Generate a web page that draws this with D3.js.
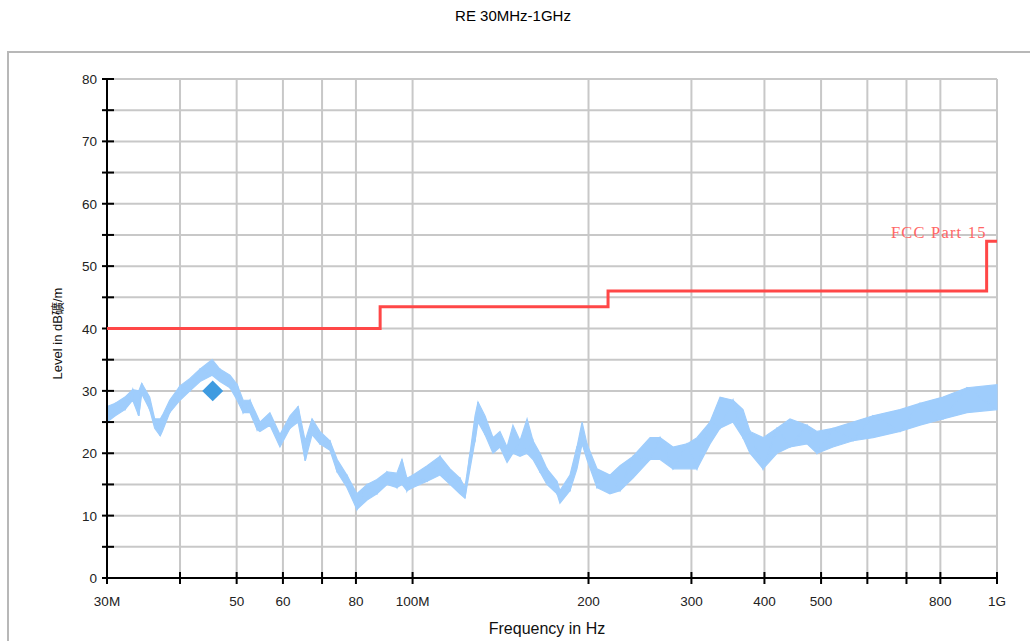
<!DOCTYPE html>
<html>
<head>
<meta charset="utf-8">
<script src="https://cdn.jsdelivr.net/npm/d3@7"></script>
<style>
  html, body { margin: 0; padding: 0; background: #fff; }
  svg { display: block; }
</style>
</head>
<body>
<script>
// ---------- DATA ----------
const chartTitle = "RE 30MHz-1GHz";
const xTitle = "Frequency in Hz";
const yTitle = "Level in dB礦/m";

// x tick values (MHz) and their labels ("" = unlabeled tick)
const xTickValues = [30, 40, 50, 60, 70, 80, 100, 200, 300, 400, 500, 600, 700, 800, 1000];
const xTickLabels = ["30M", "", "50", "60", "", "80", "100M", "200", "300", "400", "500", "", "", "800", "1G"];
const yMajorTicks = [0, 10, 20, 30, 40, 50, 60, 70, 80];
const yMinorTicks = [5, 15, 25, 35, 45, 55, 65, 75];

// measured trace (peak detector): frequency (MHz), lower and upper level of the noisy band (dBµV/m)
const traceFreq = [30, 31, 32.2, 33.2, 34.0, 34.4, 35.5, 36.2, 37.0, 37.3, 38.4, 40, 41.6, 43.3, 45.4, 46.8, 48.7, 50.1, 51.3, 52.7, 54.2, 54.8, 57, 59.3, 61.7, 63.7, 65.5, 67.3, 69.4, 72.2, 74.3, 77.2, 80.3, 83.6, 86.9, 90.4, 94, 95.9, 97.8, 100.2, 105.9, 111.4, 115.9, 120.5, 122.9, 125.4, 127.9, 129.4, 133, 137.3, 141.1, 145.1, 148.5, 152.7, 157, 160.7, 165.2, 169.8, 176.7, 178.7, 185.9, 191.1, 195, 198.8, 206.8, 217.6, 226.4, 238.3, 254.9, 265.1, 279, 294.8, 306.6, 322.8, 335.8, 353.4, 367.6, 377.9, 397.8, 420.3, 442.4, 473.1, 492.1, 524.1, 567.1, 613.6, 682.4, 738.3, 808.4, 888.5, 1000];
const traceLo = [25, 26, 27, 28.5, 26, 29.5, 27, 24, 22.8, 23.5, 26.5, 28.5, 30, 31.5, 32.5, 31.5, 30.5, 28.5, 26.5, 26.5, 23.8, 23.5, 24.5, 21, 24, 25, 18.8, 23, 21.5, 20.5, 17, 14.5, 11, 12.5, 13.5, 15, 14.5, 15, 14, 14.5, 15.5, 16.5, 15, 13.5, 12.8, 17.5, 22, 25, 23, 20, 21, 18.5, 20, 19.5, 20, 19, 17, 15, 13.5, 12, 14, 17.5, 21.5, 19, 14.5, 13.5, 14, 16, 19, 19, 17.5, 17.5, 17.5, 21.5, 24, 25, 22.5, 20, 17.5, 20, 21, 21.5, 20, 21, 22, 22.5, 23.5, 24.5, 25.5, 26.5, 27];
const traceHi = [27.5, 28, 29, 30.2, 30, 31.2, 29, 25.5, 25.5, 26, 28.5, 30.8, 32, 33.5, 35, 33.5, 32.5, 31, 28.5, 28.5, 26, 25, 26.5, 23, 26, 27.5, 22, 25.5, 23.5, 22, 19, 16.5, 13.5, 15, 15.8, 17, 16.8, 19, 16, 16.5, 18, 19.5, 17.5, 16, 14.5, 20, 26, 28.2, 26, 22.5, 23.5, 21, 24.5, 22, 25.5, 22, 20, 17.5, 15.5, 14, 16.5, 21, 25, 21.5, 17.5, 16.5, 18, 19.5, 22.5, 22.5, 21, 21.5, 22.5, 25, 29, 28.5, 27, 23.5, 22.5, 24, 25.5, 24.5, 23.5, 24, 25, 26, 27, 28, 29, 30.5, 31];

// final measurement marker (quasi-peak)
const markerFreq = [45.5];
const markerLevel = [30];

// FCC Part 15 limit line (step)
const limitFreq = [30, 88, 88, 216, 216, 960, 960, 1000];
const limitLevel = [40, 40, 43.5, 43.5, 46, 46, 54, 54];
const limitName = "FCC Part 15";

// ---------- DRAW ----------
const W = 1030, H = 641;
const m = { left: 107, right: 33, top: 79, bottom: 63 };

const svg = d3.select("body").append("svg").attr("width", W).attr("height", H);

// outer frame
svg.append("rect").attr("x", 8).attr("y", 52).attr("width", W + 20).attr("height", 640)
  .attr("fill", "#fff").attr("stroke", "#b8b8b8").attr("stroke-width", 2);

svg.append("text").attr("x", 513).attr("y", 21).attr("text-anchor", "middle")
  .attr("font-family", "Liberation Sans, Arial, sans-serif").attr("font-size", 15)
  .attr("fill", "#000").text(chartTitle);

const x = d3.scaleLog().domain([30, 1000]).range([m.left, W - m.right]);
const y = d3.scaleLinear().domain([0, 80]).range([H - m.bottom, m.top]);

const g = svg.append("g");

// grid
g.selectAll(".vg").data(xTickValues.slice(1)).join("line")
  .attr("x1", d => x(d)).attr("x2", d => x(d)).attr("y1", y(0)).attr("y2", y(80))
  .attr("stroke", "#c8c8c8").attr("stroke-width", 2);
g.selectAll(".hg").data(yMajorTicks.concat(yMinorTicks).filter(d => d > 0)).join("line")
  .attr("x1", x(30)).attr("x2", x(1000)).attr("y1", d => y(d)).attr("y2", d => y(d))
  .attr("stroke", "#c8c8c8").attr("stroke-width", 2);

// trace band
const pts = traceFreq.map((f, i) => ({ f, lo: traceLo[i], hi: traceHi[i] }));
g.append("path").datum(pts)
  .attr("d", d3.area().x(d => x(d.f)).y0(d => y(d.lo)).y1(d => y(d.hi)))
  .attr("fill", "#9fcdfc").attr("stroke", "#9fcdfc").attr("stroke-width", 1.2)
  .attr("stroke-linejoin", "miter");
// zig-zag through band for jagged look
const zig = [];
pts.forEach((d, i) => { zig.push([d.f, i % 2 ? d.hi : d.lo]); });
g.append("path").datum(zig)
  .attr("d", d3.line().x(d => x(d[0])).y(d => y(d[1])))
  .attr("fill", "none").attr("stroke", "#9fcdfc").attr("stroke-width", 1.5);

// marker
g.selectAll(".mk").data(markerFreq).join("path")
  .attr("d", d3.symbol(d3.symbolSquare, 220))
  .attr("transform", (d, i) => `translate(${x(d)},${y(markerLevel[i])}) rotate(45)`)
  .attr("fill", "#3f9be0");

// axes
const xAxis = g.append("g").attr("transform", `translate(0,${y(0)})`);
xAxis.append("line").attr("x1", x(30)).attr("x2", x(1000)).attr("stroke", "#000").attr("stroke-width", 2);
xAxis.selectAll(".xt").data(xTickValues).join("line")
  .attr("x1", d => x(d)).attr("x2", d => x(d)).attr("y1", -6).attr("y2", 6)
  .attr("stroke", "#000").attr("stroke-width", 2);
xAxis.selectAll(".xl").data(xTickValues).join("text")
  .attr("x", d => x(d)).attr("y", 28).attr("text-anchor", "middle")
  .attr("font-family", "Liberation Sans, Arial, sans-serif").attr("font-size", 13.5).attr("fill", "#222")
  .text((d, i) => xTickLabels[i]);

const yAxis = g.append("g").attr("transform", `translate(${x(30)},0)`);
yAxis.append("line").attr("y1", y(0)).attr("y2", y(80)).attr("stroke", "#000").attr("stroke-width", 2);
yAxis.selectAll(".yt").data(yMajorTicks.concat(yMinorTicks)).join("line")
  .attr("x1", -5).attr("x2", 7).attr("y1", d => y(d)).attr("y2", d => y(d))
  .attr("stroke", "#000").attr("stroke-width", 2);
yAxis.selectAll(".yl").data(yMajorTicks).join("text")
  .attr("x", -10).attr("y", d => y(d) + 5).attr("text-anchor", "end")
  .attr("font-family", "Liberation Sans, Arial, sans-serif").attr("font-size", 13.5).attr("fill", "#222")
  .text(d => d);

// limit line (drawn above axis ticks, as in the reference)
g.append("path").datum(limitFreq.map((f, i) => [f, limitLevel[i]]))
  .attr("d", d3.line().x(d => x(d[0])).y(d => y(d[1])))
  .attr("fill", "none").attr("stroke", "#ff4747").attr("stroke-width", 3);
g.append("text").attr("x", x(960)).attr("y", y(54) - 3).attr("text-anchor", "end")
  .attr("font-family", "Liberation Serif, serif").attr("font-size", 16.5)
  .attr("letter-spacing", 1.2).attr("fill", "#ff6666").text(limitName);

// axis titles
svg.append("text").attr("x", 547).attr("y", 634).attr("text-anchor", "middle")
  .attr("font-family", "Liberation Sans, Arial, sans-serif").attr("font-size", 16).attr("fill", "#111")
  .text(xTitle);
svg.append("text").attr("transform", `translate(62,${(y(0) + y(80)) / 2 + 5}) rotate(-90)`)
  .attr("text-anchor", "middle")
  .attr("font-family", "Liberation Sans, 'Noto Sans CJK SC', sans-serif").attr("font-size", 13).attr("fill", "#111")
  .text(yTitle);
</script>
</body>
</html>
